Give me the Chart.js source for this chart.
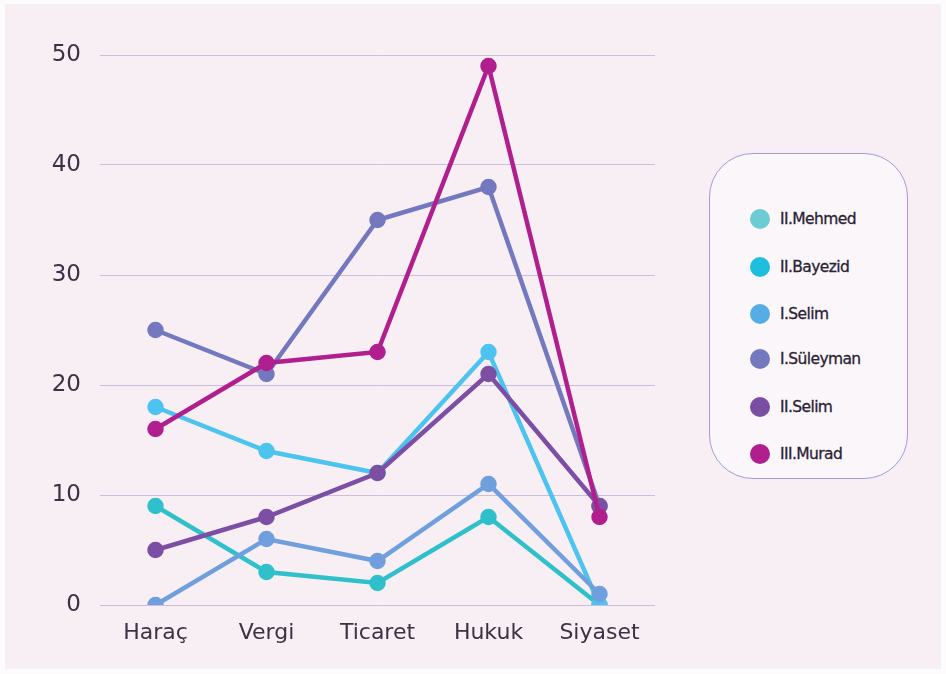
<!DOCTYPE html>
<html>
<head>
<meta charset="utf-8">
<script src="https://cdn.jsdelivr.net/npm/chart.js@4/dist/chart.umd.min.js"></script>
<style>
  html, body { margin: 0; padding: 0; width: 946px; height: 674px; background: #fdfbfc; overflow: hidden; }
  #frame { position: absolute; left: 5px; top: 4px; width: 936px; height: 665px; background: #f8eff5; }
  #wrap { position: absolute; left: 0; top: 0; width: 946px; height: 674px; }
  #legend { position: absolute; left: 709px; top: 153px; width: 199px; height: 326px; box-sizing: border-box;
    border: 1.5px solid #a997d2; border-radius: 44px; background: #fbf6fa; }
  .item { position: absolute; left: 40px; display: flex; align-items: center; height: 22px;
    font-family: "DejaVu Sans", sans-serif; font-size: 15.5px; font-weight: normal; color: #2a2333;
    letter-spacing: -0.6px; -webkit-text-stroke: 0.3px #2a2333; }
  .dot { width: 20px; height: 20px; border-radius: 50%; margin-right: 10px; }
</style>
</head>
<body>
<div id="frame"></div>
<div id="wrap"><canvas id="c" width="946" height="674"></canvas></div>
<div id="legend"></div>
<script>
const categories = ["Haraç", "Vergi", "Ticaret", "Hukuk", "Siyaset"];
const seriesNames = ["II.Mehmed", "II.Bayezid", "I.Selim", "I.Süleyman", "II.Selim", "III.Murad"];
const mehmed2 = [9, 3, 2, 8, 0];
const bayezid2 = [18, 14, 12, 23, 0];
const selim1 = [0, 6, 4, 11, 1];
const suleyman1 = [25, 21, 35, 38, 9];
const selim2 = [5, 8, 12, 21, 9];
const murad3 = [16, 22, 23, 49, 8];
const yTicks = [0, 10, 20, 30, 40, 50];

const lineColors = ["#2fc0cc", "#4cc4ef", "#6f9fdc", "#7479bf", "#7c4fa5", "#b01f8d"];
const legendColors = ["#6dcbd4", "#1ebedf", "#55ade3", "#7479bf", "#7a4ea3", "#b01f8d"];
const values = [mehmed2, bayezid2, selim1, suleyman1, selim2, murad3];

const datasets = values.map((v, i) => ({
  label: seriesNames[i],
  data: v,
  borderColor: lineColors[i],
  backgroundColor: lineColors[i],
  pointBackgroundColor: lineColors[i],
  pointBorderColor: lineColors[i],
  borderWidth: 4.5,
  pointRadius: 6,
  pointHoverRadius: 6,
  tension: 0,
  order: values.length - i
}));

const txt = "#3b3245";
const fam = "'DejaVu Sans', sans-serif";
new Chart(document.getElementById("c"), {
  type: "line",
  data: { labels: categories, datasets },
  options: {
    responsive: false,
    animation: false,
    layout: { padding: { top: 55, right: 291, left: 0, bottom: 0 } },
    plugins: { legend: { display: false }, tooltip: { enabled: false } },
    scales: {
      x: {
        offset: true,
        grid: { display: false, drawTicks: false },
        border: { display: false },
        ticks: { color: txt, font: { family: fam, size: 22 }, padding: 15 },
        afterFit: s => { s.height = 69; }
      },
      y: {
        min: 0, max: 50,
        afterBuildTicks: s => { s.ticks = yTicks.map(v => ({ value: v })); },
        grid: { color: "#cdbcdc", lineWidth: 1, drawTicks: false },
        border: { display: false },
        ticks: { color: txt, font: { family: fam, size: 23 }, padding: 19 },
        afterFit: s => { s.width = 100; }
      }
    }
  }
});

const lg = document.getElementById("legend");
const tops = [65, 113, 160, 205, 253, 300];
seriesNames.forEach((n, i) => {
  const d = document.createElement("div");
  d.className = "item";
  d.style.top = (tops[i] - 11) + "px";
  d.innerHTML = `<span class="dot" style="background:${legendColors[i]}"></span><span>${n}</span>`;
  lg.appendChild(d);
});
</script>
</body>
</html>
